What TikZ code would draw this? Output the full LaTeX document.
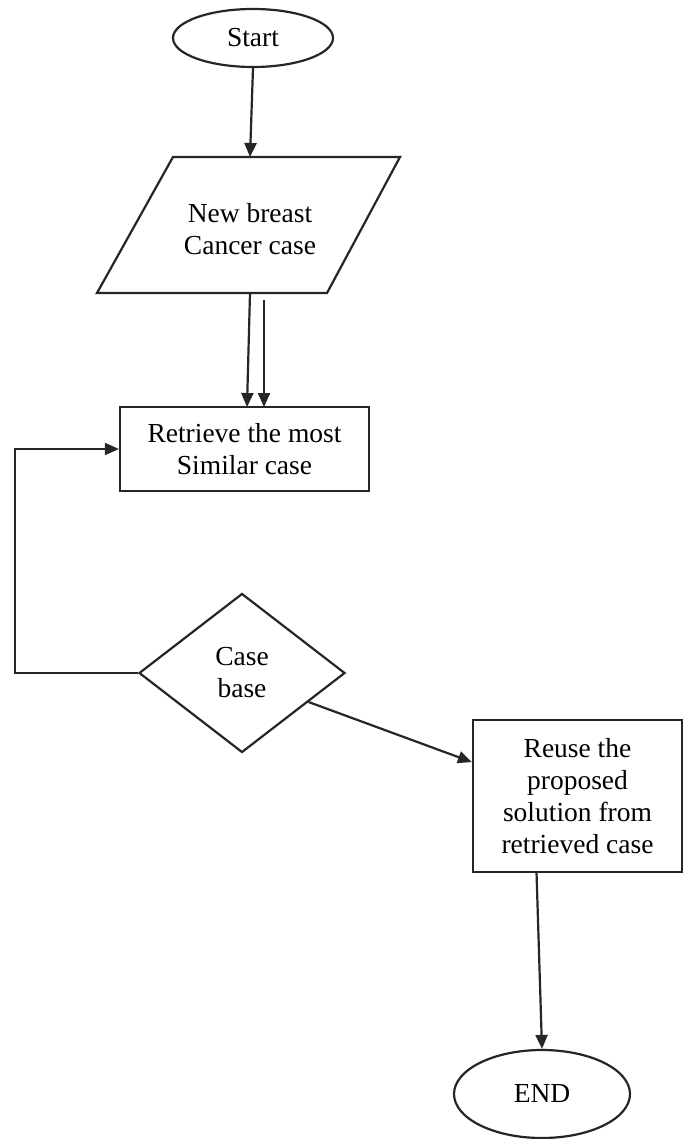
\documentclass[tikz,border=0pt]{standalone}
\usepackage{fontspec}
\setmainfont{Liberation Serif}
\usetikzlibrary{shapes.geometric,arrows.meta,calc}
\begin{document}
\begin{tikzpicture}[x=1pt,y=-1pt,
  ln/.style={line width=2.2pt, draw=black!85},
  arr/.style={ln, -{Triangle[length=14pt,width=12pt]}},
  txt/.style={font=\fontsize{27.5}{32}\selectfont, align=center, text=black},
  oval/.style={ellipse, ln, txt, inner sep=0pt},
  box/.style={rectangle, ln, txt, inner sep=0pt},
  dia/.style={diamond, ln, txt, inner sep=0pt},
]
\useasboundingbox[fill=white] (0,0) rectangle (684,1139);

% Start
\node[oval, minimum width=160pt, minimum height=58pt] (start) at (253,38) {Start};

% Parallelogram (input)
\coordinate (pA) at (173,157);
\coordinate (pB) at (400,157);
\coordinate (pC) at (327,293);
\coordinate (pD) at (97,293);
\draw[ln] (pA) -- (pB) -- (pC) -- (pD) -- cycle;
\node[txt] (input) at (250,229) {New breast\\Cancer case};
\coordinate (inTop) at (250,157);
\coordinate (inBotA) at (250,293);
\coordinate (inBotB) at (264,300);

% Retrieve
\node[box, minimum width=249pt, minimum height=84pt] (retr) at (244.5,449) {Retrieve the most\\Similar case};

% Case base
\node[dia, minimum width=206pt, minimum height=159pt] (cb) at (242,673) {Case\\base};

% Reuse
\node[box, minimum width=209pt, minimum height=152pt] (reuse) at (577.5,796) {Reuse the\\proposed\\solution from\\retrieved case};

% END
\node[oval, minimum width=176pt, minimum height=88pt] (fin) at (542,1094) {END};

% Connectors
\draw[arr] (start.south) -- (inTop);
\draw[arr] (inBotA) -- (247,407);
\coordinate (retTopB) at (264,407);
\draw[arr] (inBotB) -- (retTopB);
\coordinate (loopA) at (15,673);
\draw[arr] (cb.west) -- (loopA) |- (retr.west);
\coordinate (cbOut) at ($(cb.east)!0.36!(cb.south)$);
\coordinate (reuseIn) at ($(reuse.north west)!0.28!(reuse.south west)$);
\draw[arr] (cbOut) -- (reuseIn);
\coordinate (reuseOut) at ($(reuse.south west)!0.306!(reuse.south east)$);
\draw[arr] (reuseOut) -- (fin.north);
\end{tikzpicture}
\end{document}
